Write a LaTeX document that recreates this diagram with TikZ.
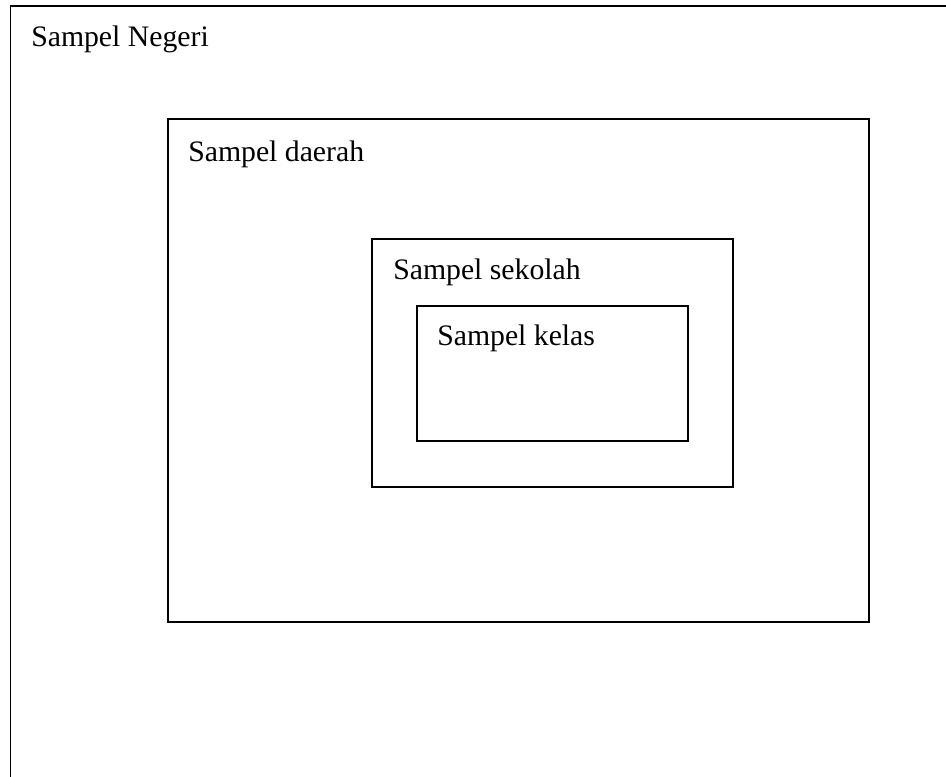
\documentclass[tikz,border=0pt]{standalone}
\usepackage{fontspec}
\setmainfont{Liberation Serif}
\usepackage{tikz}
\usetikzlibrary{positioning}

\begin{document}
\begin{tikzpicture}
    [   x = 0.75pt
    ,   y = -0.75pt
    ,   box/.style=
        {   draw
        ,   line width = 1.3pt
        }
    ,   caption/.style=
        {   anchor = base west
        ,   inner sep = 0pt
        ,   node font = \fontsize{22.3}{27}\selectfont
        }
    ]
    \clip (0,0) rectangle (946,776);
    % nested sample frames
    \coordinate (negeriNW) at (10.5,6);
    \coordinate (daerahNW) at (168,119);
    \coordinate (sekolahNW) at (372,239);
    \coordinate (kelasNW) at (417,306);
    \draw[box] (negeriNW) rectangle (990,820);
    \draw[box] (daerahNW) rectangle (869,622);
    \draw[box] (sekolahNW) rectangle (733,487);
    \draw[box] (kelasNW) rectangle (688,441);
    % captions
    \node[caption] (negeri) at (31,46) {Sampel Negeri};
    \node[caption] (daerah) at (188,161) {Sampel daerah};
    \node[caption] (sekolah) at (393,279) {Sampel sekolah};
    \node[caption] (kelas) at (437,345) {Sampel kelas};
\end{tikzpicture}
\end{document}
